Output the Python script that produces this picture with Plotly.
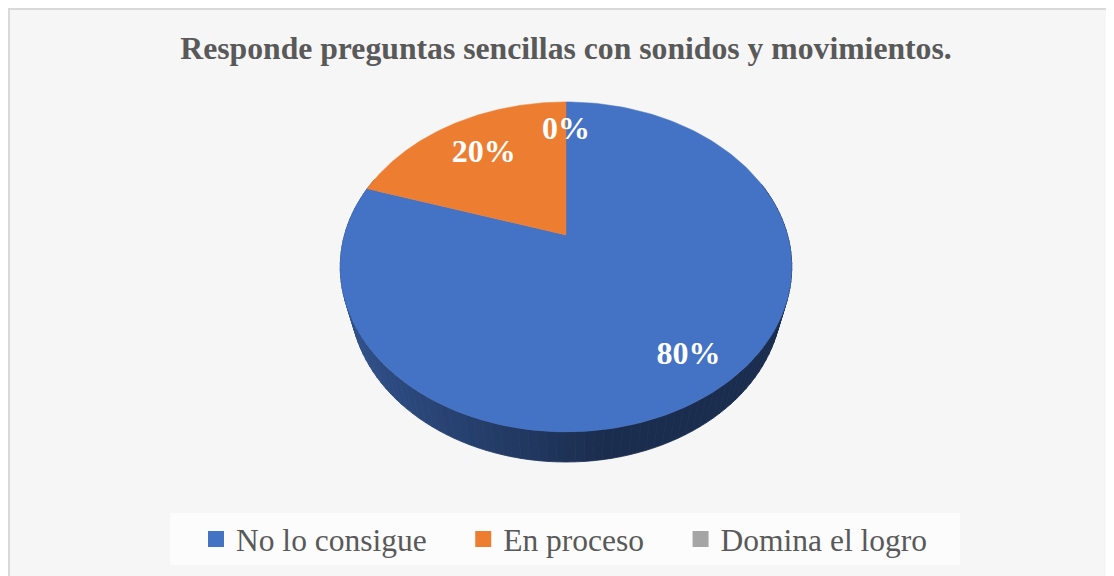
import numpy as np
import plotly.graph_objects as go

labels = ["No lo consigue", "En proceso", "Domina el logro"]
values = [80, 20, 0]
pct_text = ["80%", "20%", "0%"]
colors = ["#4472C4", "#ED7D31", "#A5A5A5"]

# 3d look of the excel pie: tilt + perspective, fitted to the picture
TILT = np.radians(45.8)
DIST = 3.607
FOCAL = 799
DEPTH = 0.2226
LABEL_R = [0.82, 0.70, 0.75]

W, H = 1114, 576
# the page body adds 8px, so figure pixels are screen pixels - 8
AX, AY = 558, 227   # pie centre on the figure
NBSP = "\u00a0" * 4


def project(X, Y, Z):
    s, c = np.sin(TILT), np.cos(TILT)
    v = Y * s + Z * c
    w = DIST + Y * c - Z * s
    return FOCAL * X / w, FOCAL * v / w


def shade(hexcol, f):
    h = hexcol.lstrip("#")
    r, g, b = (int(h[i:i + 2], 16) for i in (0, 2, 4))
    return "rgb(%d,%d,%d)" % (r * f, g * f, b * f)


total = sum(values)
bounds = np.concatenate([[0], np.cumsum(values)]) / total * 2 * np.pi


def slice_of(theta):
    for i in range(len(values)):
        if bounds[i] <= theta < bounds[i + 1]:
            return i
    return len(values) - 1


fig = go.Figure()

# side wall, front part only, far strips first
strips = []
step = np.radians(2)
for t0 in np.arange(np.radians(70), np.radians(290), step):
    t1 = t0 + step
    tm = (t0 + t1) / 2
    ts = np.linspace(t0, t1, 3)
    xs_top, ys_top = project(np.sin(ts), np.cos(ts), 0)
    xs_bot, ys_bot = project(np.sin(ts[::-1]), np.cos(ts[::-1]), -DEPTH)
    light = max(0, (-np.sin(tm) - 0.15 * np.cos(tm)) / np.hypot(1, 0.15))
    col = shade(colors[slice_of(tm)], 0.40 + 0.32 * light)
    depth = DIST + np.cos(tm) * np.cos(TILT)
    strips.append((depth, np.concatenate([xs_top, xs_bot]), np.concatenate([ys_top, ys_bot]), col))

strips.sort(key=lambda s: -s[0])
for _, sx, sy, col in strips:
    fig.add_trace(go.Scatter(x=list(sx) + [sx[0]], y=list(sy) + [sy[0]], fill="toself",
                             fillcolor=col, mode="lines", line=dict(color=col, width=0.8),
                             hoverinfo="skip", showlegend=False))

# top face
for i in range(len(values)):
    if values[i] == 0:
        continue
    ts = np.linspace(bounds[i], bounds[i + 1], 200)
    ax, ay = project(np.sin(ts), np.cos(ts), 0)
    px = np.concatenate([[0], ax, [0]])
    py = np.concatenate([[0], ay, [0]])
    fig.add_trace(go.Scatter(x=px, y=py, fill="toself", fillcolor=colors[i], mode="lines",
                             line=dict(color=colors[i], width=0.5), hoverinfo="skip", showlegend=False))

# data labels
lx, ly = [], []
for i in range(len(values)):
    tm = (bounds[i] + bounds[i + 1]) / 2
    if values[i] == 0:
        tm = bounds[i] % (2 * np.pi)
    x, y = project(LABEL_R[i] * np.sin(tm), LABEL_R[i] * np.cos(tm), 0)
    lx.append(x)
    ly.append(y)
fig.add_trace(go.Scatter(x=lx, y=ly, mode="text", text=pct_text,
                         textfont=dict(family="Liberation Serif", size=32, color="white", weight="bold"),
                         hoverinfo="skip", showlegend=False))

# legend entries
for i in range(len(labels)):
    name = labels[i] + (NBSP if i < len(labels) - 1 else "")
    fig.add_trace(go.Scatter(x=[None], y=[None], mode="markers", name=name,
                             marker=dict(symbol="square", size=22, color=colors[i])))

fig.update_layout(
    width=W, height=H,
    margin=dict(l=0, r=0, t=0, b=0),
    paper_bgcolor="white",
    plot_bgcolor="rgba(0,0,0,0)",
    xaxis=dict(range=[-AX, W - AX], visible=False, fixedrange=True),
    yaxis=dict(range=[AY - H, AY], visible=False, fixedrange=True),
    title=dict(text="<b>Responde preguntas sencillas con sonidos y movimientos.</b>",
               x=558 / W, xanchor="center", y=1 - 40 / H, yanchor="middle",
               font=dict(family="Liberation Serif", size=31.7, color="#595959")),
    legend=dict(orientation="h", x=188 / W, xanchor="left", y=1 - 531 / H, yanchor="middle",
                bgcolor="rgba(0,0,0,0)",
                font=dict(family="Liberation Serif", size=31.5, color="#595959")),
    shapes=[
        dict(type="rect", xref="paper", yref="paper", x0=1 / W, x1=1.01, y0=-0.01, y1=1 - 1 / H,
             fillcolor="#F6F6F6", line=dict(color="#D9D9D9", width=2), layer="below"),
        dict(type="rect", xref="paper", yref="paper", x0=162 / W, x1=952 / W, y0=1 - 557 / H, y1=1 - 505 / H,
             fillcolor="#FCFCFC", line=dict(width=0), layer="below"),
    ],
)

fig.write_html("out.html")
